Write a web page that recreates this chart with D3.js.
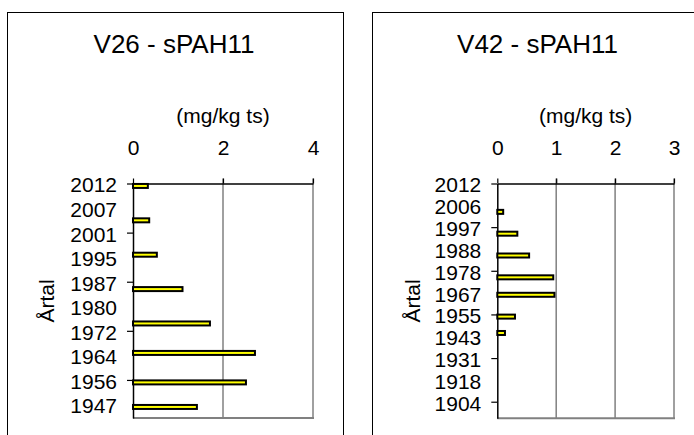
<!DOCTYPE html>
<html>
<head>
<meta charset="utf-8">
<script src="https://cdn.jsdelivr.net/npm/d3@7"></script>
<style>
  body { margin: 0; background: #fff; }
  svg { display: block; font-family: "Liberation Sans", Arial, sans-serif; }
</style>
</head>
<body>
<svg id="chart" width="694" height="435"></svg>
<script>
// V26 core: year labels (evenly spaced), bar positions in label-index units, values in mg/kg ts
const v26Labels = ['2012', '2007', '2001', '1995', '1987', '1980', '1972', '1964', '1956', '1947'];
const v26BarPos = [0.1, 1.5, 2.9, 4.3, 5.7, 6.9, 8.1, 9.1];
const v26Values = [0.33, 0.36, 0.53, 1.10, 1.71, 2.71, 2.51, 1.42];
const v26XTicks = [0, 2, 4];

// V42 core
const v42Labels = ['2012', '2006', '1997', '1988', '1978', '1967', '1955', '1943', '1931', '1918', '1904'];
const v42BarPos = [1.3, 2.3, 3.3, 4.3, 5.1, 6.1, 6.85];
const v42Values = [0.10, 0.34, 0.54, 0.95, 0.97, 0.30, 0.13];
const v42XTicks = [0, 1, 2, 3];

const svg = d3.select('#chart');

function panel(opt) {
  const g = svg.append('g');

  // frame round the whole chart
  g.append('rect')
    .attr('x', opt.frame[0] + 0.5).attr('y', opt.frame[1] + 0.5)
    .attr('width', opt.frame[2]).attr('height', opt.frame[3])
    .attr('fill', 'none').attr('stroke', '#000').attr('stroke-width', 1);

  const x = d3.scaleLinear().domain([0, opt.xMax]).range([opt.left, opt.right]);
  const y = d3.scaleLinear().domain([0, opt.yMax]).range([opt.top, opt.bottom]);

  // gridlines + plot border (grey)
  g.append('g')
    .selectAll('line')
    .data(opt.xTicks.slice(1))
    .join('line')
    .attr('x1', d => x(d)).attr('x2', d => x(d))
    .attr('y1', opt.top - 5).attr('y2', opt.bottom)
    .attr('stroke', '#808080').attr('stroke-width', 1.5);
  g.append('line')
    .attr('x1', opt.left).attr('x2', opt.right + 1)
    .attr('y1', opt.bottom).attr('y2', opt.bottom)
    .attr('stroke', '#808080').attr('stroke-width', 2);

  // top axis
  const xAxis = g.append('g')
    .attr('transform', `translate(0,${opt.top})`)
    .call(d3.axisTop(x).tickValues(opt.xTicks).tickFormat(d3.format('d')).tickSize(5).tickSizeOuter(0).tickPadding(24));
  xAxis.select('.domain').attr('stroke', '#000').attr('stroke-width', 1.5);
  xAxis.selectAll('line').attr('stroke', '#000').attr('stroke-width', 1.2);
  xAxis.selectAll('text').attr('font-size', 21).attr('fill', '#000').attr('font-family', null);

  // left axis: labels at every row, tick marks at every other row
  const idx = d3.range(opt.labels.length);
  const yLab = g.append('g')
    .attr('transform', `translate(${opt.left},0)`)
    .call(d3.axisLeft(y).tickValues(idx).tickFormat(i => opt.labels[i]).tickSize(0).tickPadding(16));
  yLab.select('.domain').remove();
  yLab.selectAll('text').attr('font-size', 21).attr('fill', '#000').attr('font-family', null).attr('dy', '0.4em');

  const yTick = g.append('g')
    .attr('transform', `translate(${opt.left},0)`)
    .call(d3.axisLeft(y).tickValues(idx.filter(i => i % 2 === 0)).tickFormat('').tickSize(6).tickSizeOuter(0));
  yTick.select('.domain').attr('stroke', '#000').attr('stroke-width', 1.5);
  yTick.selectAll('line').attr('stroke', '#000').attr('stroke-width', 1.2);

  // bars
  g.append('g')
    .selectAll('rect')
    .data(opt.values.map((v, i) => ({ v, p: opt.barPos[i] })))
    .join('rect')
    .attr('x', x(0))
    .attr('y', d => y(d.p) - 2)
    .attr('width', d => x(d.v) - x(0))
    .attr('height', 4)
    .attr('fill', '#ffff00')
    .attr('stroke', '#000')
    .attr('stroke-width', 2);

  // texts
  g.append('text')
    .attr('x', opt.titleX).attr('y', 53)
    .attr('text-anchor', 'middle').attr('font-size', 26)
    .text(opt.title);
  g.append('text')
    .attr('x', (opt.left + opt.right) / 2).attr('y', 123)
    .attr('text-anchor', 'middle').attr('font-size', 21)
    .text('(mg/kg ts)');
  g.append('text')
    .attr('transform', `translate(${opt.yTitleX},301) rotate(-90)`)
    .attr('text-anchor', 'middle').attr('font-size', 21)
    .text('Årtal');
}

panel({
  frame: [7, 12, 336, 440],
  left: 133, right: 313, top: 183.5, bottom: 418,
  xMax: 4, yMax: 9.55,
  xTicks: v26XTicks,
  labels: v26Labels, barPos: v26BarPos, values: v26Values,
  title: 'V26 - sPAH11', titleX: 174, yTitleX: 54
});

panel({
  frame: [372, 12, 340, 440],
  left: 497.3, right: 674, top: 183.5, bottom: 418.3,
  xMax: 3, yMax: 10.76,
  xTicks: v42XTicks,
  labels: v42Labels, barPos: v42BarPos, values: v42Values,
  title: 'V42 - sPAH11', titleX: 537.5, yTitleX: 420
});
</script>
</body>
</html>
